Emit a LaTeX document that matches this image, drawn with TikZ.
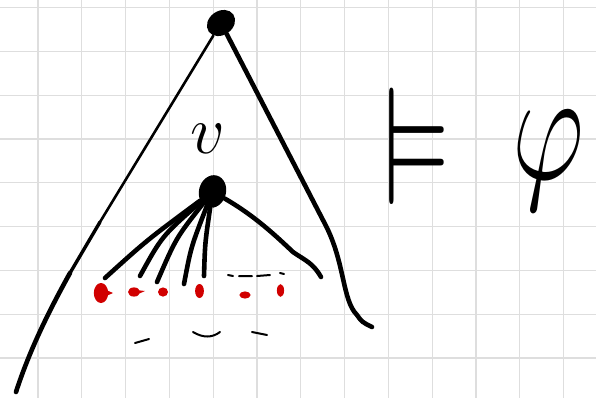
\documentclass[tikz,border=0pt]{standalone}
\usepackage{amssymb}
\usepackage{tikz}
\usetikzlibrary{shapes.geometric, calc}
\definecolor{inkblack}{HTML}{000000}
\definecolor{leafred}{HTML}{D10000}
\definecolor{gridgray}{HTML}{DEDEDE}

\tikzset{
  dotnode/.style={ellipse, fill=inkblack, inner sep=0pt},
  pen/.style={draw=inkblack, line width=2.3pt, line cap=round, line join=round},
  thinpen/.style={draw=inkblack, line width=1pt, line cap=round},
  bigtext/.style={inner sep=0pt, font=\fontsize{24.88}{30}\selectfont},
}

\begin{document}
\begin{tikzpicture}[x=0.5pt, y=-0.5pt]
          \useasboundingbox (0,0) rectangle (596,398);
          % Cuadrícula
          \foreach \gx in {0,...,12}
            \draw[gridgray, line width=0.6pt] ({37.9+43.8*\gx},0) -- ({37.9+43.8*\gx},398);
          \foreach \gy in {0,...,8}
            \draw[gridgray, line width=0.6pt] (0,{7.5+43.8*\gy}) -- (596,{7.5+43.8*\gy});
          % Raíz y nodo v
          \node[dotnode, minimum width=15pt, minimum height=12pt, rotate=35] (root) at (221,23) {};
          \node[dotnode, minimum width=13.5pt, minimum height=16.5pt, rotate=-15] (v) at (212.5,191.5) {};
          \node[bigtext] (vlabel) at (208,139) {\scalebox{1.37}{$v$}};
          % Lados del triángulo
          \coordinate (lmid) at (100,222);
          \coordinate (lbend) at (70,273);
          \coordinate (lbase) at (16,392);
          \coordinate (rbend) at (325,224);
          \coordinate (rbase) at (372,327);
          \draw[pen, line width=1.3pt] (root) -- (lmid);
          \draw[pen, line width=1.7pt] (lmid) -- (lbend);
          \draw[pen] (lbend) .. controls (45,318) and (28,355) .. (lbase);
          \draw[pen] (root) -- (rbend) .. controls (345,262) and (342,300) .. (357,315) .. controls (362,322) .. (rbase);
          % Hijos de v
          \coordinate (c1) at (105,278);
          \coordinate (c2) at (140,276);
          \coordinate (c3) at (157,282);
          \coordinate (c4) at (184,284);
          \coordinate (c5) at (204,276);
          \coordinate (c6) at (321,277);
          \draw[pen] (v) .. controls (147,240) .. (c1);
          \draw[pen] (v) .. controls (162,236) .. (c2);
          \draw[pen] (v) .. controls (176,238) .. (c3);
          \draw[pen] (v) .. controls (191,247) .. (c4);
          \draw[pen] (v) .. controls (205,243) .. (c5);
          \draw[pen] (v) .. controls (255,216) and (276,236) .. (293,252) .. controls (306,261) and (313,263) .. (c6);
          % Puntos suspensivos
          \draw[thinpen] (228,275) -- (233,276) (239,276) -- (252,276) (257,276) -- (270,275) (280,273) -- (284,274);
          % Hojas rojas
          \fill[leafred] (101,293) ellipse [x radius=3.6pt, y radius=5pt];
          \fill[leafred] (104,289) -- (113,293) -- (104,297) -- cycle;
          \fill[leafred] (134,292) ellipse [x radius=3pt, y radius=2.3pt];
          \fill[leafred] (136,290) -- (145,291) -- (136,295) -- cycle;
          \fill[leafred] (163,292) ellipse [x radius=2.5pt, y radius=2.3pt];
          \fill[leafred] (199.5,291) ellipse [x radius=2.2pt, y radius=3.5pt];
          \fill[leafred] (245,295) ellipse [x radius=2.8pt, y radius=1.8pt];
          \fill[leafred] (280.5,290.5) ellipse [x radius=1.8pt, y radius=3.2pt];
          % Trazos inferiores
          \draw[thinpen] (135,343) -- (149,339);
          \draw[thinpen] (193,332) .. controls (203,338) and (212,338) .. (220,332);
          \draw[thinpen] (252,332) -- (267,335);
          % Modelo satisface phi
          \node[bigtext] (models) at (417,146) {\scalebox{2.2}[3.37]{$\vDash$}};
          \node[bigtext] (phi) at (548,161) {\scalebox{2.25}[3.2]{$\varphi$}};
        \end{tikzpicture}
\end{document}
